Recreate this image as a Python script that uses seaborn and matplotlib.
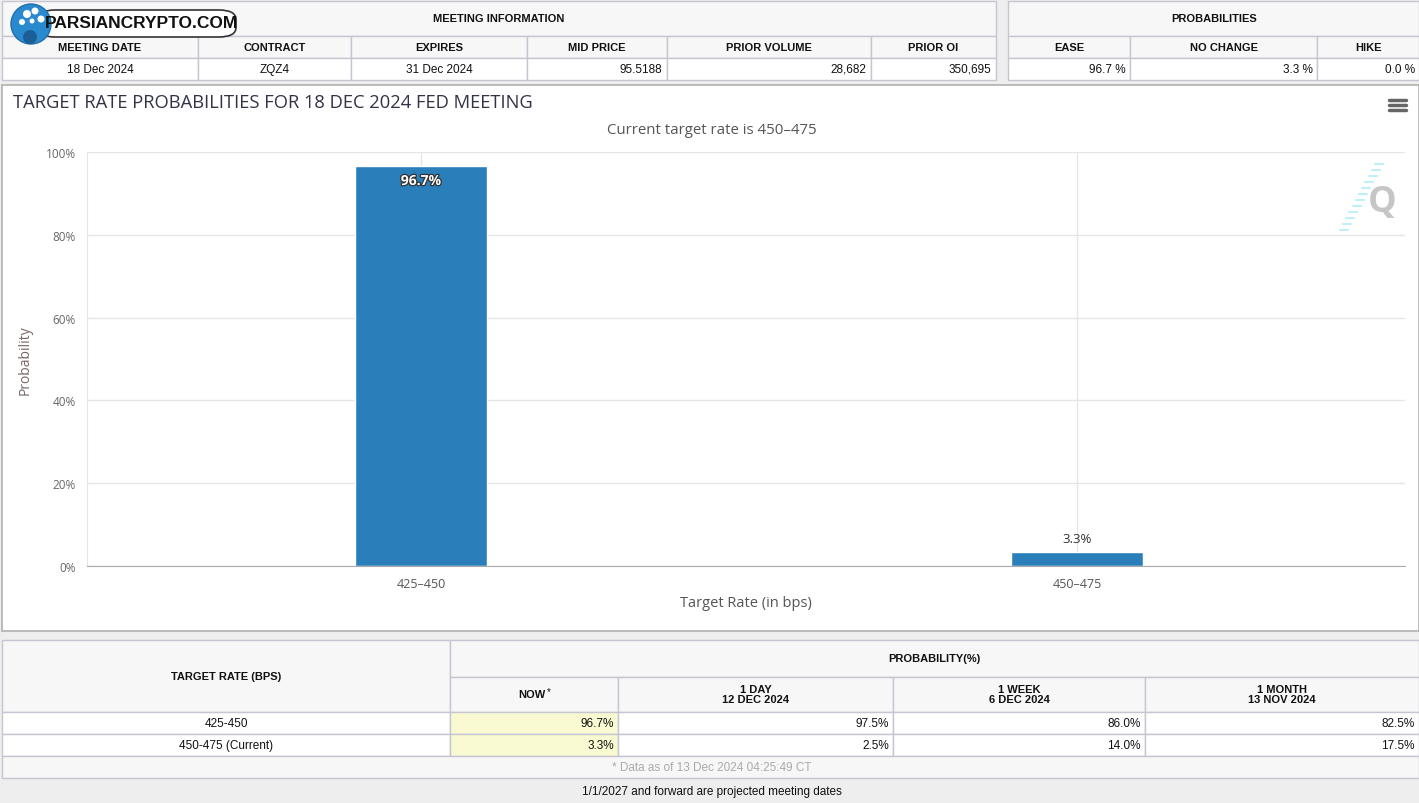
import matplotlib
matplotlib.use("Agg")
import matplotlib.pyplot as plt
import matplotlib.patheffects as pe
from matplotlib.patches import Rectangle, FancyBboxPatch, Ellipse
from matplotlib.lines import Line2D
import seaborn as sns
import pandas as pd

W, H = 1419, 804

# data
meeting_headers = ["MEETING DATE", "CONTRACT", "EXPIRES", "MID PRICE", "PRIOR VOLUME", "PRIOR OI"]
meeting_values = ["18 Dec 2024", "ZQZ4", "31 Dec 2024", "95.5188", "28,682", "350,695"]
prob_headers = ["EASE", "NO CHANGE", "HIKE"]
prob_values = ["96.7 %", "3.3 %", "0.0 %"]

target_rates = ["425\u2013450", "450\u2013475"]
prob_now = [96.7, 3.3]

table_rates = ["425-450", "450-475 (Current)"]
prob_1day = [97.5, 2.5]
prob_1week = [86.0, 14.0]
prob_1month = [82.5, 17.5]
period_headers = ["NOW", "1 DAY\n12 DEC 2024", "1 WEEK\n6 DEC 2024", "1 MONTH\n13 NOV 2024"]

sns.set_style("white")
plt.rcParams["font.family"] = ["Liberation Sans", "DejaVu Sans"]

fig = plt.figure(figsize=(W / 100, H / 100), dpi=100)
fig.patch.set_facecolor("#eeeeee")

line_col = "#c6c6d2"
head_bg = "#f7f7f7"


def box(x0, y0, x1, y1, fc, ec=line_col, lw=1.0, z=1):
    fig.add_artist(Rectangle((x0 / W, 1 - y1 / H), (x1 - x0) / W, (y1 - y0) / H,
                             transform=fig.transFigure, facecolor=fc, edgecolor=ec,
                             linewidth=lw, zorder=z))


def txt(x, y, s, ha="center", size=8, weight="normal", color="#111111", z=5, **kw):
    fig.text(x / W, 1 - y / H, s, ha=ha, va="center", fontsize=size,
             fontweight=weight, color=color, zorder=z, **kw)


def dot(x, y, r, fc, ec="none", z=7):
    fig.add_artist(Ellipse((x / W, 1 - y / H), 2 * r / W, 2 * r / H,
                           transform=fig.transFigure, facecolor=fc, edgecolor=ec,
                           linewidth=1, zorder=z))


# ---- top tables ----
cols_m = [2, 198, 351, 527, 667, 871, 996]
box(2, 2, 996, 37, head_bg)
txt(499, 19, "MEETING INFORMATION", weight="bold")
for i, (h, v) in enumerate(zip(meeting_headers, meeting_values)):
    x0, x1 = cols_m[i], cols_m[i + 1]
    box(x0, 37, x1, 59, head_bg)
    box(x0, 59, x1, 81, "white")
    txt((x0 + x1) / 2, 48, h, weight="bold")
    if i < 3:
        txt((x0 + x1) / 2, 70, v, size=8.5)
    else:
        txt(x1 - 5, 70, v, ha="right", size=8.5)

cols_p = [1008, 1130, 1317, 1419]
box(1008, 2, 1419, 37, head_bg)
txt(1214, 19, "PROBABILITIES", weight="bold")
for i, (h, v) in enumerate(zip(prob_headers, prob_values)):
    x0, x1 = cols_p[i], cols_p[i + 1]
    box(x0, 37, x1, 59, head_bg)
    box(x0, 59, x1, 81, "white")
    txt((x0 + x1) / 2, 48, h, weight="bold")
    txt(x1 - 4, 70, v, ha="right", size=8.5)

# logo
fig.add_artist(FancyBboxPatch((38 / W, 1 - 38 / H), 198 / W, 27 / H,
                              boxstyle="round,pad=0,rounding_size=0.012",
                              transform=fig.transFigure, facecolor="white",
                              edgecolor="#333333", linewidth=1.2, zorder=6))
dot(31, 25, 20, "#2a8ad0", ec="#1f6fa8")
dot(30, 38, 7, "#1c5f96", z=7.5)
for cx, cy, r in [(27, 15, 4), (35, 12, 3.5), (41, 20, 3.5), (22, 23, 3), (32, 22, 2.5)]:
    dot(cx, cy, r, "white", z=8)
txt(141, 24, "PARSIANCRYPTO.COM", size=12.5, weight="bold", color="#111111", z=9)

# ---- chart panel ----
box(2, 86, 1419, 632, "white", ec="#b0b0b0", lw=1.2, z=-1)
ax = fig.add_axes([87 / W, 1 - 567 / H, (1405 - 87) / W, (567 - 153) / H])
ax.set_facecolor("none")

df = pd.DataFrame({"rate": target_rates, "prob": prob_now})
sns.barplot(data=df, x="rate", y="prob", color="#2a7fba", saturation=1,
            width=0.2, ax=ax, zorder=3)

ax.set_xlim(-0.509, 1.5)
ax.set_ylim(0, 100)
ax.set_yticks([0, 20, 40, 60, 80, 100])
ax.set_yticklabels([f"{v}%" for v in [0, 20, 40, 60, 80, 100]],
                   fontsize=8.5, color="#666666", family="Open Sans")
ax.set_xticks(range(len(target_rates)))
ax.set_xticklabels(target_rates, fontsize=9, color="#555555", family="Open Sans")
ax.tick_params(axis="y", length=0, pad=8)
ax.tick_params(axis="x", length=7, color="#cccccc", pad=1)
ax.grid(True, color="#e6e6e6", linewidth=1, zorder=0)
ax.set_axisbelow(True)
for s in ["top", "right"]:
    ax.spines[s].set_visible(False)
ax.spines["left"].set_color("#e6e6e6")
ax.spines["bottom"].set_color("#aaaaaa")
ax.spines["bottom"].set_zorder(4)

ax.set_xlabel("Target Rate (in bps)", fontsize=10.5, color="#555555",
              family="Open Sans", va="center")
ax.xaxis.set_label_coords(0.5, -0.089)
ax.set_ylabel("Probability", fontsize=10, color="#7a6666",
              family="Open Sans", va="center")
ax.yaxis.set_label_coords(-0.047, 0.5)

for i, v in enumerate(prob_now):
    if v > 90:
        ax.annotate(f"{v}%", (i, v), xytext=(0, -6), textcoords="offset points",
                    ha="center", va="top", fontsize=10, color="white",
                    fontweight="bold", family="Open Sans", zorder=6,
                    path_effects=[pe.withStroke(linewidth=1.8, foreground="#333333")])
    else:
        ax.annotate(f"{v}%", (i, v), xytext=(0, 5), textcoords="offset points",
                    ha="center", va="bottom", fontsize=9.5, color="#333333",
                    family="Open Sans", zorder=6)

txt(13, 103, "TARGET RATE PROBABILITIES FOR 18 DEC 2024 FED MEETING", ha="left",
    size=13.2, color="#333348", family="Open Sans")
txt(712, 130, "Current target rate is 450\u2013475", size=10.8, color="#555555",
    family="Open Sans")

# menu icon
for yy in [101, 106, 111]:
    fig.add_artist(Line2D([1389 / W, 1406 / W], [1 - yy / H, 1 - yy / H],
                          transform=fig.transFigure, color="#666666", lw=2.5,
                          solid_capstyle="round", zorder=6))
# watermark
for k in range(12):
    yy = 165 + k * 6
    xx = 1383 - k * 3.2
    fig.add_artist(Line2D([(xx - 8) / W, xx / W], [1 - yy / H, 1 - yy / H],
                          transform=fig.transFigure, color="#bff0f7", lw=1.5, zorder=5))
txt(1382, 203, "Q", size=26, weight="bold", color="#c6c6c6", family="Open Sans")

# ---- bottom table ----
cols_b = [2, 450, 618, 893, 1145, 1419]
box(2, 641, 450, 713, head_bg)
txt(226, 677, "TARGET RATE (BPS)", weight="bold")
box(450, 641, 1419, 678, head_bg)
txt(934, 659, "PROBABILITY(%)", weight="bold")
for i, h in enumerate(period_headers):
    x0, x1 = cols_b[i + 1], cols_b[i + 2]
    box(x0, 678, x1, 713, head_bg)
    if i == 0:
        txt((x0 + x1) / 2 - 2, 695, h, weight="bold")
        txt((x0 + x1) / 2 + 15, 692, "*", size=7)
    else:
        txt((x0 + x1) / 2, 695, h, weight="bold", linespacing=1.1)

series = [prob_now, prob_1day, prob_1week, prob_1month]
row_y = [713, 735, 757]
for r, name in enumerate(table_rates):
    y0, y1 = row_y[r], row_y[r + 1]
    box(2, y0, 450, y1, "white")
    txt(226, (y0 + y1) / 2, name, size=8.5)
    for i, s in enumerate(series):
        x0, x1 = cols_b[i + 1], cols_b[i + 2]
        box(x0, y0, x1, y1, "#fafad2" if i == 0 else "white")
        txt(x1 - 4, (y0 + y1) / 2, f"{s[r]:.1f}%", ha="right", size=8.5)

box(2, 757, 1419, 779, head_bg)
txt(712, 768, "* Data as of 13 Dec 2024 04:25:49 CT", size=8.5, color="#aaaaaa")
txt(712, 792, "1/1/2027 and forward are projected meeting dates", size=8.5)

fig.savefig("out.png", dpi=100, facecolor=fig.get_facecolor())
